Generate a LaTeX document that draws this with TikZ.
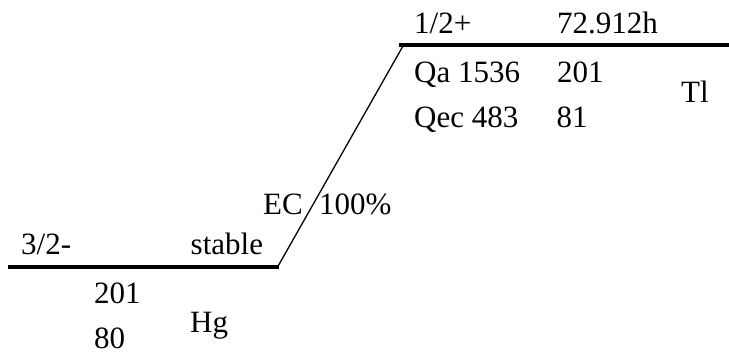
\documentclass[tikz,border=0pt]{standalone}
\usepackage{fontspec}
\setmainfont{Liberation Serif}
\begin{document}
\begin{tikzpicture}[x=1pt,y=1pt,
  lbl/.style={anchor=base west,inner sep=0pt,font=\fontsize{31}{37}\selectfont},
  level/.style={line width=4.5pt},
  trans/.style={line width=1.3pt}]
\useasboundingbox (0,0) rectangle (729,355);
% levels (image y converted: 355 - y)
\coordinate (tl) at (399,310);
\coordinate (tr) at (729,310);
\coordinate (bl) at (8,88);
\coordinate (br) at (279,88);
\coordinate (ds) at (277,87);
\coordinate (de) at (403,309);
\draw[level] (tl) -- (tr);
\draw[level] (bl) -- (br);
\draw[trans] (ds) -- (de);
% top level labels
\node[lbl] (tspin) at (414,321) {1/2+};
\node[lbl] (thalf) at (557,321) {72.912h};
\node[lbl] (tqa) at (414,272) {Qa 1536};
\node[lbl] (ta) at (557,272) {201};
\node[lbl] (tel) at (681,252) {Tl};
\node[lbl] (tqec) at (414,227) {Qec 483};
\node[lbl] (tz) at (556.5,227) {81};
% transition labels
\node[lbl] (ec) at (263,140) {EC};
\node[lbl] (pct) at (319,140) {100\%};
% bottom level labels
\node[lbl] (bspin) at (21,100) {3/2-};
\node[lbl] (bstab) at (190.5,100) {stable};
\node[lbl] (ba) at (94,51) {201};
\node[lbl] (bel) at (190,22) {Hg};
\node[lbl] (bz) at (94,6) {80};
\end{tikzpicture}
\end{document}
